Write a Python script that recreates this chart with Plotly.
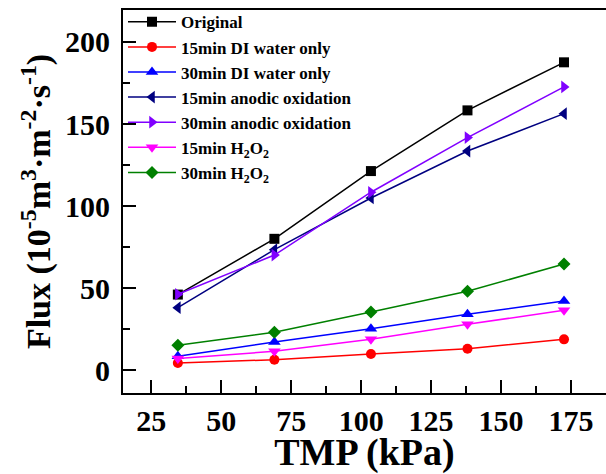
import plotly.graph_objects as go

tmp_kpa = [34.5, 69.0, 103.5, 138.0, 172.5]

series_names = [
    "Original",
    "15min DI water only",
    "30min DI water only",
    "15min anodic oxidation",
    "30min anodic oxidation",
    "15min H<sub>2</sub>O<sub>2</sub>",
    "30min H<sub>2</sub>O<sub>2</sub>",
]
original = [46.0, 80.0, 121.3, 158.3, 187.6]
di_15 = [4.3, 6.3, 9.8, 13.0, 18.7]
di_30 = [8.4, 17.1, 25.2, 34.0, 42.1]
anodic_15 = [38.0, 73.4, 104.9, 133.5, 156.3]
anodic_30 = [46.2, 70.1, 108.4, 141.7, 172.6]
h2o2_15 = [7.0, 11.4, 18.7, 27.9, 36.4]
h2o2_30 = [15.1, 23.0, 35.4, 48.0, 64.6]

x_tick_vals = [25, 50, 75, 100, 125, 150, 175]
x_minor_vals = [37.5, 62.5, 87.5, 112.5, 137.5, 162.5]
y_tick_vals = [0, 50, 100, 150, 200]
y_minor_vals = [25, 75, 125, 175]

series_values = [original, di_15, di_30, anodic_15, anodic_30, h2o2_15, h2o2_30]
colors = ["#000000", "#ff0000", "#0000ff", "#000080", "#8000ff", "#ff00ff", "#008000"]
symbols = ["square", "circle", "triangle-up", "triangle-left", "triangle-right",
           "triangle-down", "diamond"]

FONT = "Liberation Serif, Times New Roman, serif"

fig = go.Figure()
for name, vals, c, s in zip(series_names, series_values, colors, symbols):
    fig.add_trace(go.Scatter(
        x=tmp_kpa, y=vals, name=name, mode="lines+markers",
        line=dict(color=c, width=1.5),
        marker=dict(color=c, symbol=s, size=11 if "triangle" in s else 10,
                    line=dict(width=0)),
    ))

fig.update_layout(
    width=606, height=474,
    margin=dict(l=123, r=0, t=10, b=81),
    paper_bgcolor="white", plot_bgcolor="white",
    font=dict(family=FONT, color="black", weight="bold"),
    showlegend=True,
    legend=dict(
        x=0.0, y=1.015, xanchor="left", yanchor="top",
        bgcolor="rgba(0,0,0,0)", borderwidth=0,
        font=dict(family=FONT, size=17, color="black", weight="bold"),
        tracegroupgap=0, itemwidth=48,
    ),
    xaxis=dict(
        range=[14.9, 187.5], automargin=False,
        tickmode="array", tickvals=x_tick_vals,
        ticks="inside", ticklen=13, tickwidth=1.5, tickcolor="black",
        minor=dict(tickmode="array", tickvals=x_minor_vals,
                   ticks="inside", ticklen=7, tickwidth=1.5, tickcolor="black"),
        showline=True, linecolor="black", linewidth=2, mirror=True,
        showgrid=False, zeroline=False,
        tickfont=dict(family=FONT, size=30, color="black", weight="bold"),
        title=dict(text="TMP (kPa)", standoff=6,
                   font=dict(family=FONT, size=38, color="black", weight="bold")),
    ),
    yaxis=dict(
        range=[-14.0, 219.5], automargin=False,
        tickmode="array", tickvals=y_tick_vals,
        ticks="inside", ticklen=13, tickwidth=1.5, tickcolor="black",
        minor=dict(tickmode="array", tickvals=y_minor_vals,
                   ticks="inside", ticklen=7, tickwidth=1.5, tickcolor="black"),
        showline=True, linecolor="black", linewidth=2, mirror=False,
        showgrid=False, zeroline=False, ticklabelstandoff=5,
        tickfont=dict(family=FONT, size=30, color="black", weight="bold"),
        title=dict(text="Flux (10<sup>-5</sup>m<sup>3</sup>·m<sup>-2</sup>·s<sup>-1</sup>)",
                   standoff=4,
                   font=dict(family=FONT, size=34, color="black", weight="bold")),
    ),
)

# Remove the browser's default 8px body margin so the figure fills the window.
fig.write_html(
    "out.html",
    config={"displayModeBar": False},
    post_script="document.body.style.margin='0';document.body.style.overflow='hidden';",
)
